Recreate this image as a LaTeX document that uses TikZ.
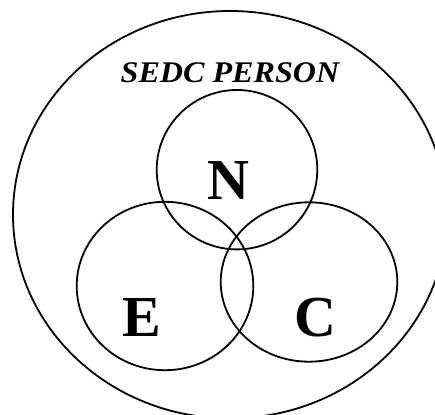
\documentclass[tikz,border=0pt]{standalone}
\usepackage{fontspec}
\setmainfont{Liberation Serif}
\usetikzlibrary{shapes.geometric}
\begin{document}
\begin{tikzpicture}[x=1pt,y=-1pt,
  ring/.style={draw=black,line width=1.8pt,ellipse,inner sep=0pt,outer sep=0pt},
  letter/.style={inner sep=0pt,font=\fontsize{58}{58}\selectfont\bfseries},
  title/.style={inner sep=0pt,font=\fontsize{30}{30}\selectfont\bfseries\itshape,xscale=1.07}]
\useasboundingbox (0,0) rectangle (435,414);
\node[ring,minimum width=434pt,minimum height=407.4pt] (person) at (230,214.7) {};
\node[ring,minimum width=160.6pt,minimum height=159.4pt] (ncirc) at (237,169.7) {};
\node[ring,minimum width=176.6pt,minimum height=168.4pt] (ecirc) at (165,286) {};
\node[ring,minimum width=176.6pt,minimum height=159.4pt] (ccirc) at (309,282) {};
\node[title] (sedc) at (230,73) {SEDC PERSON};
\node[letter] (n) at (228.5,181) {N};
\node[letter] (e) at (141.5,318) {E};
\node[letter] (c) at (315,317.5) {C};
\end{tikzpicture}
\end{document}
